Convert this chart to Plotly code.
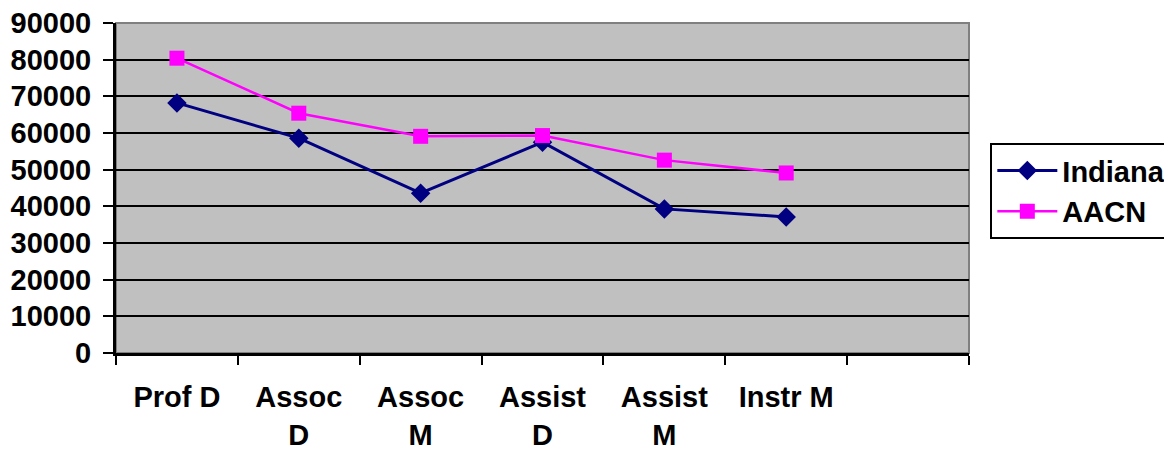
import plotly.graph_objects as go

categories = ["Prof D", "Assoc<br>D", "Assoc<br>M", "Assist<br>D", "Assist<br>M", "Instr M"]
empty_slot = [" "]
indiana = [68200, 58600, 43600, 57500, 39300, 37100]
aacn = [80400, 65400, 59100, 59300, 52600, 49100]
y_ticks = [0, 10000, 20000, 30000, 40000, 50000, 60000, 70000, 80000, 90000]
y_tick_labels = [str(v) for v in y_ticks]

FONT = "Arial, Liberation Sans, sans-serif"

fig = go.Figure()
fig.add_trace(go.Scatter(
    x=categories, y=indiana, name="Indiana", mode="lines+markers",
    line=dict(color="#000080", width=3),
    marker=dict(symbol="diamond", size=15, color="#000080"),
))
fig.add_trace(go.Scatter(
    x=categories, y=aacn, name="AACN", mode="lines+markers",
    line=dict(color="#FF00FF", width=2.5),
    marker=dict(symbol="square", size=15, color="#FF00FF"),
))

fig.update_layout(
    width=1164, height=443,
    margin=dict(l=108, r=203, t=15, b=98, autoexpand=False),
    paper_bgcolor="white",
    plot_bgcolor="#C0C0C0",
    font=dict(family=FONT, size=29, color="black"),
    showlegend=True,
    legend=dict(
        x=1.025, y=0.636, xanchor="left", yanchor="top",
        bgcolor="white", bordercolor="black", borderwidth=2,
        font=dict(family=FONT, size=29, color="black", weight="bold"),
        tracegroupgap=0, itemwidth=60,
    ),
    shapes=[dict(type="rect", xref="paper", yref="paper", x0=0, x1=1, y0=0, y1=1,
                 line=dict(color="#808080", width=2), layer="below")],
)

fig.update_xaxes(
    type="category",
    categoryorder="array", categoryarray=categories + empty_slot,
    range=[-0.5, len(categories) + len(empty_slot) - 0.5],
    tickson="boundaries",
    ticks="outside", ticklen=9, tickwidth=2, tickcolor="black",
    showline=True, linecolor="black", linewidth=3,
    showgrid=False, zeroline=False, automargin=False,
    tickfont=dict(family=FONT, size=29, color="black", weight="bold"),
    ticklabelstandoff=16, ticklabeloverflow="allow",
)
fig.update_yaxes(
    range=[0, 90000], tickvals=y_ticks, ticktext=y_tick_labels,
    ticks="outside", ticklen=10, tickwidth=2, tickcolor="black",
    showline=True, linecolor="black", linewidth=3,
    showgrid=True, gridcolor="black", gridwidth=2,
    zeroline=False, automargin=False,
    tickfont=dict(family=FONT, size=29, color="black", weight="bold"),
    ticklabelstandoff=6, ticklabeloverflow="allow",
)

fig.write_html("out.html")
